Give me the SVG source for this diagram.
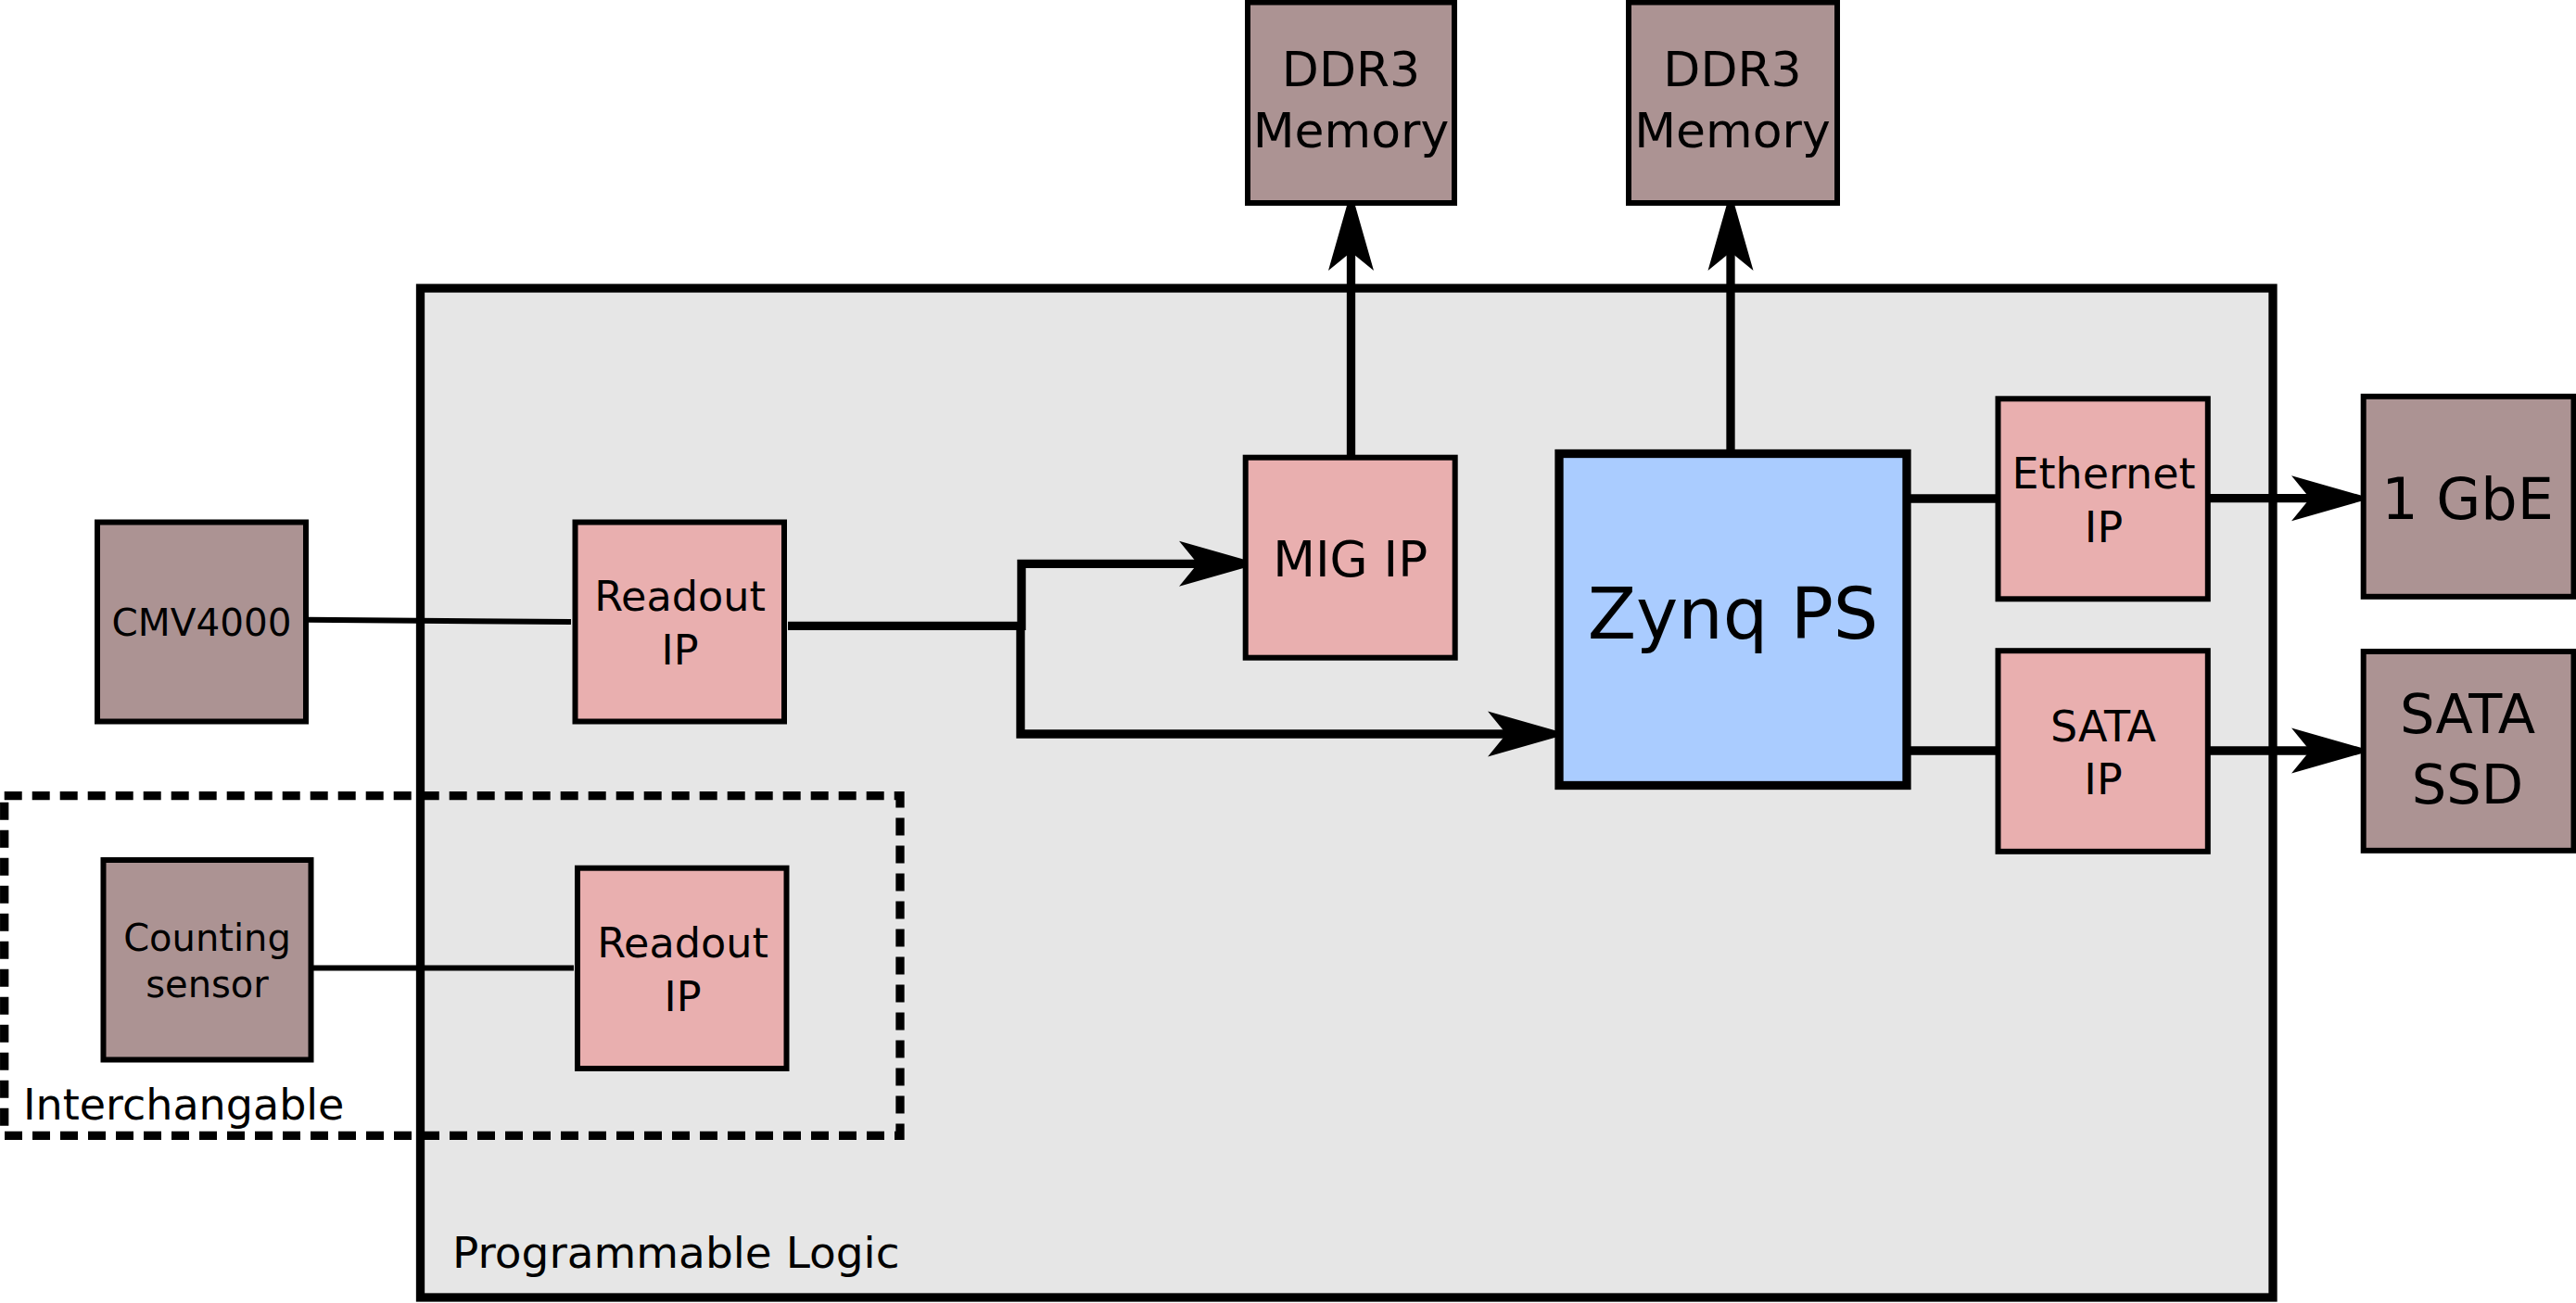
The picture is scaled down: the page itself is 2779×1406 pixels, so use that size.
<svg xmlns="http://www.w3.org/2000/svg" width="2779" height="1406" viewBox="0 0 2779 1406">
<defs>
<style>
text{font-family:"DejaVu Sans","Liberation Sans",sans-serif;fill:#000;text-anchor:middle}
.ext{fill:#ac9393;stroke:#000;stroke-width:6}
.ip{fill:#e9afaf;stroke:#000;stroke-width:6}
.thin{fill:none;stroke:#000;stroke-width:6}
.thick{fill:none;stroke:#000;stroke-width:9.3}
.arr{fill:none;stroke:#000;stroke-width:9.3;marker-end:url(#ah)}
</style>
<marker id="ah" markerUnits="userSpaceOnUse" orient="auto" refX="0" refY="0" viewBox="-21 -26 89 52" markerWidth="89" markerHeight="52" overflow="visible">
<path d="M66,0 L-20,-24.5 L0,0 L-20,24.5 Z" fill="#000"/>
</marker>
</defs>
<rect width="2779" height="1406" fill="#fff"/>

<g id="programmable-logic">
<rect x="453.5" y="311" width="1998.5" height="1089" fill="#e6e6e6" stroke="#000" stroke-width="9.3"/>
<text x="488" y="1368" font-size="47" style="text-anchor:start">Programmable Logic</text>
</g>

<g id="interchangable">
<rect x="4.7" y="858.7" width="966.3" height="366.7" fill="none" stroke="#000" stroke-width="9.3" stroke-dasharray="19,11"/>
<text x="25" y="1207.5" font-size="46" style="text-anchor:start">Interchangable</text>
</g>

<g id="connectors">
<line class="thin" x1="332" y1="668.7" x2="616" y2="671"/>
<line class="thin" x1="338" y1="1044.4" x2="619" y2="1044.4"/>
<path class="arr" d="M850,675.3 H1102 V608.3 H1292"/>
<path class="arr" d="M1101,675.3 V792 H1625"/>
<path class="arr" d="M1457.5,494 V272"/>
<path class="arr" d="M1867,494 V272"/>
<line class="thick" x1="2061" y1="538" x2="2156" y2="538"/>
<path class="arr" d="M2383,537.7 H2492"/>
<line class="thick" x1="2061" y1="810" x2="2156" y2="810"/>
<path class="arr" d="M2383,810 H2492"/>
</g>

<g id="cmv4000">
<rect class="ext" x="105" y="563.5" width="225" height="215"/>
<text x="217.5" y="685.5" font-size="40.5">CMV4000</text>
</g>

<g id="counting-sensor">
<rect class="ext" x="111.5" y="928" width="224" height="215.5"/>
<text x="223.5" y="1026" font-size="40">Counting</text>
<text x="223.5" y="1076" font-size="40">sensor</text>
</g>

<g id="readout-ip-1">
<rect class="ip" x="620.5" y="563.5" width="225.5" height="215"/>
<text x="733.5" y="659" font-size="44.5">Readout</text>
<text x="733.5" y="716.5" font-size="44.5">IP</text>
</g>

<g id="readout-ip-2">
<rect class="ip" x="623" y="936.7" width="225.5" height="216.3"/>
<text x="736.5" y="1033" font-size="44.5">Readout</text>
<text x="736.5" y="1090.5" font-size="44.5">IP</text>
</g>

<g id="mig-ip">
<rect class="ip" x="1343.7" y="493.7" width="226" height="216"/>
<text x="1456.7" y="621.7" font-size="53">MIG IP</text>
</g>

<g id="ddr3-1">
<rect class="ext" x="1346" y="2.5" width="223" height="216.5"/>
<text x="1457.5" y="92.5" font-size="52">DDR3</text>
<text x="1457.5" y="159" font-size="52">Memory</text>
</g>

<g id="ddr3-2">
<rect class="ext" x="1757" y="2.5" width="225" height="216.5"/>
<text x="1869" y="92.5" font-size="52">DDR3</text>
<text x="1869" y="159" font-size="52">Memory</text>
</g>

<g id="zynq-ps">
<rect x="1682" y="489.5" width="375" height="358" fill="#aaccff" stroke="#000" stroke-width="9.3"/>
<text x="1869.5" y="689.3" font-size="76.5">Zynq PS</text>
</g>

<g id="ethernet-ip">
<rect class="ip" x="2155.5" y="430.3" width="226.3" height="216"/>
<text x="2269.5" y="527.3" font-size="46">Ethernet</text>
<text x="2269.5" y="585" font-size="46">IP</text>
</g>

<g id="sata-ip">
<rect class="ip" x="2155.5" y="702.2" width="226.3" height="216.6"/>
<text x="2269" y="800" font-size="46">SATA</text>
<text x="2269" y="856.7" font-size="46">IP</text>
</g>

<g id="gbe">
<rect class="ext" x="2549.7" y="427.8" width="226.8" height="216"/>
<text x="2662" y="560" font-size="62">1 GbE</text>
</g>

<g id="sata-ssd">
<rect class="ext" x="2549.7" y="703" width="226.8" height="214.8"/>
<text x="2662" y="790.7" font-size="59">SATA</text>
<text x="2662" y="867.3" font-size="59">SSD</text>
</g>
</svg>
